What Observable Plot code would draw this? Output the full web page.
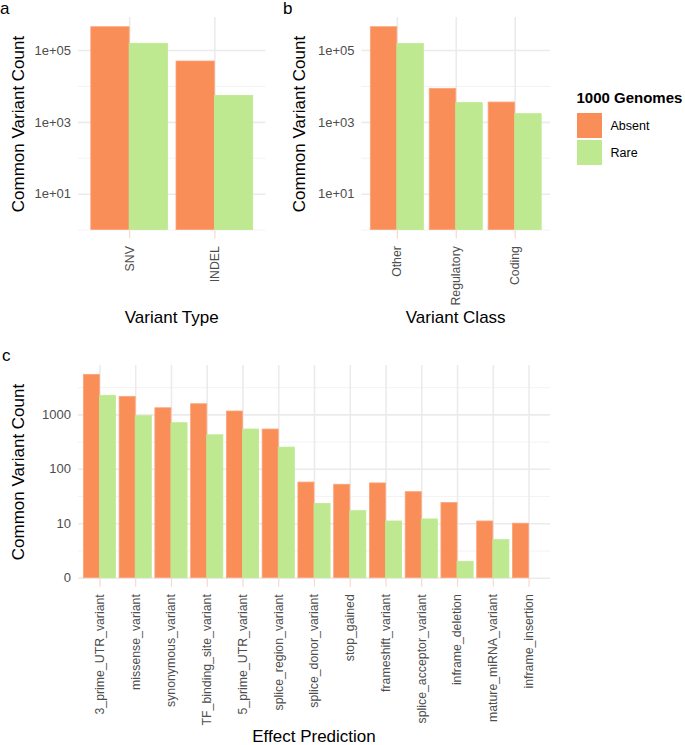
<!DOCTYPE html>
<html>
<head>
<meta charset="utf-8">
<script src="https://cdn.jsdelivr.net/npm/d3@7"></script>
<script src="https://cdn.jsdelivr.net/npm/@observablehq/plot@0.6"></script>
<style>
  html, body { margin: 0; padding: 0; background: #fff; }
  #root { position: relative; width: 685px; height: 745px; font-family: "Liberation Sans", Arial, Helvetica, sans-serif; overflow: hidden; }
  .abs { position: absolute; white-space: nowrap; }
  .title { font-size: 17px; color: #000; }
  .rot { transform: translate(-50%, -50%) rotate(-90deg); }
  .ctr { transform: translate(-50%, -50%); }
  .tag { font-size: 17px; color: #000; }
  svg { position: absolute; overflow: visible; }
</style>
</head>
<body>
<div id="root"></div>
<script>
// ---------------- DATA ----------------
const groups = ["Absent", "Rare"];

const typeCategories = ["SNV", "INDEL"];
const typeAbsent = [446000, 49400];
const typeRare = [154000, 5470];

const classCategories = ["Other", "Regulatory", "Coding"];
const classAbsent = [446000, 8570, 3560];
const classRare = [151000, 3430, 1690];

const effectCategories = [
  "3_prime_UTR_variant", "missense_variant", "synonymous_variant",
  "TF_binding_site_variant", "5_prime_UTR_variant", "splice_region_variant",
  "splice_donor_variant", "stop_gained", "frameshift_variant",
  "splice_acceptor_variant", "inframe_deletion", "mature_miRNA_variant",
  "inframe_insertion"
];
const effectAbsent = [5430, 2140, 1320, 1565, 1150, 537, 57, 52, 55, 38, 24, 11, 10];
const effectRare = [2230, 943, 701, 421, 537, 250, 23, 17, 11, 12, 2, 5, 0];

// y-axis ticks and labels
const sciTicks = [10, 1000, 100000];
const sciTickLabels = ["1e+01", "1e+03", "1e+05"];
const sciMinorTicks = [1, 100, 10000];
const sciDomain = [1, 830000];

const effTicks = [1, 10, 100, 1000];
const effTickLabels = ["0", "10", "100", "1000"];
const effMinorTicks = [3.1623, 31.623, 316.23, 3162.3];
const effDomain = [1, 8050];

// ---------------- STYLE ----------------
const colors = { Absent: "#F98E58", Rare: "#BEE990" };
const outline = { Absent: "#FCA47C", Rare: "#BEE990" };
const gridMajor = "#EBEBEB";
const gridMinor = "#F3F3F3";
const tickColor = "#F7D9CE";
const textGray = "#4D4D4D";
const font = "'Liberation Sans', Arial, Helvetica, sans-serif";

function panel({cats, absent, rare, ticks, tickLabels, minor, domain,
                width, height, marginLeft, marginRight, marginTop, marginBottom}) {
  const rows = [];
  cats.forEach((c, i) => {
    rows.push({i, cat: c, group: "Absent", value: absent[i]});
    rows.push({i, cat: c, group: "Rare", value: rare[i]});
  });
  const bars = rows.filter(d => d.value > 0);
  const half = 0.45; // dodge: 0.9 total width
  const idx = d3.range(cats.length);
  const labelOf = new Map(ticks.map((t, k) => [t, tickLabels[k]]));
  return Plot.plot({
    width, height, marginLeft, marginRight, marginTop, marginBottom,
    style: { fontFamily: font, background: "transparent", overflow: "visible" },
    x: { type: "linear", domain: [-0.6, cats.length - 0.4] },
    y: { type: "log", domain },
    marks: [
      Plot.gridY(minor, { stroke: gridMinor, strokeOpacity: 1, strokeWidth: 1 }),
      Plot.gridY(ticks, { stroke: gridMajor, strokeOpacity: 1, strokeWidth: 1.6 }),
      Plot.gridX(idx, { stroke: gridMajor, strokeOpacity: 1, strokeWidth: 1.6 }),
      Plot.rect(bars, {
        x1: d => d.group === "Absent" ? d.i - half : d.i,
        x2: d => d.group === "Absent" ? d.i : d.i + half,
        y1: () => domain[0],
        y2: "value",
        fill: d => colors[d.group],
        stroke: d => outline[d.group],
        strokeWidth: 0.8
      }),
      Plot.axisY(ticks, {
        tickFormat: t => labelOf.get(t),
        tickSize: 0, tickPadding: 7.5, fontSize: 13, fill: textGray, label: null
      }),
      Plot.axisX(idx, {
        tickFormat: i => cats[i],
        tickRotate: -90, tickSize: 9, tickPadding: 7,
        stroke: tickColor, strokeWidth: 1.2, fontSize: 12.3, fill: textGray, label: null
      })
    ]
  });
}

const root = document.getElementById("root");
function place(el, left, top) {
  el.style.left = left + "px"; el.style.top = top + "px";
  root.appendChild(el);
}
function text(str, x, y, cls, extra) {
  const d = document.createElement("div");
  d.className = "abs " + cls;
  d.textContent = str;
  d.style.left = x + "px"; d.style.top = y + "px";
  if (extra) Object.assign(d.style, extra);
  root.appendChild(d);
  return d;
}

// Panel a
place(panel({
  cats: typeCategories, absent: typeAbsent, rare: typeRare,
  ticks: sciTicks, tickLabels: sciTickLabels, minor: sciMinorTicks, domain: sciDomain,
  width: 270, height: 300, marginLeft: 78, marginRight: 4.5, marginTop: 17, marginBottom: 70.4
}), 0, 0);

// Panel b
place(panel({
  cats: classCategories, absent: classAbsent, rare: classRare,
  ticks: sciTicks, tickLabels: sciTickLabels, minor: sciMinorTicks, domain: sciDomain,
  width: 270, height: 300, marginLeft: 76.5, marginRight: 5, marginTop: 17, marginBottom: 70.4
}), 285, 0);

// Panel c
place(panel({
  cats: effectCategories, absent: effectAbsent, rare: effectRare,
  ticks: effTicks, tickLabels: effTickLabels, minor: effMinorTicks, domain: effDomain,
  width: 560, height: 405, marginLeft: 78, marginRight: 10, marginTop: 25, marginBottom: 167.3
}), 0, 340);

// Axis titles
text("Common Variant Count", 18.5, 124, "title rot");
text("Common Variant Count", 300, 124, "title rot");
text("Common Variant Count", 18.5, 472, "title rot");
text("Variant Type", 171.7, 318, "title ctr");
text("Variant Class", 455.7, 318, "title ctr");
text("Effect Prediction", 314, 737, "title ctr");

// Panel tags
text("a", 0, 0, "tag", { lineHeight: "17px" });
text("b", 283, 0, "tag", { lineHeight: "17px" });
text("c", 2, 347, "tag", { lineHeight: "17px" });

// Legend
text("1000 Genomes", 576.5, 89, "", { fontSize: "15px", fontWeight: "bold", lineHeight: "17px" });
groups.forEach((g, k) => {
  const sw = document.createElement("div");
  sw.className = "abs";
  Object.assign(sw.style, { left: "577px", top: (113 + k * 27) + "px", width: "25px", height: "25px", background: colors[g] });
  root.appendChild(sw);
  text(g, 610.5, 126 + k * 27, "", { fontSize: "12.5px", color: "#000", transform: "translateY(-50%)" });
});
</script>
</body>
</html>
